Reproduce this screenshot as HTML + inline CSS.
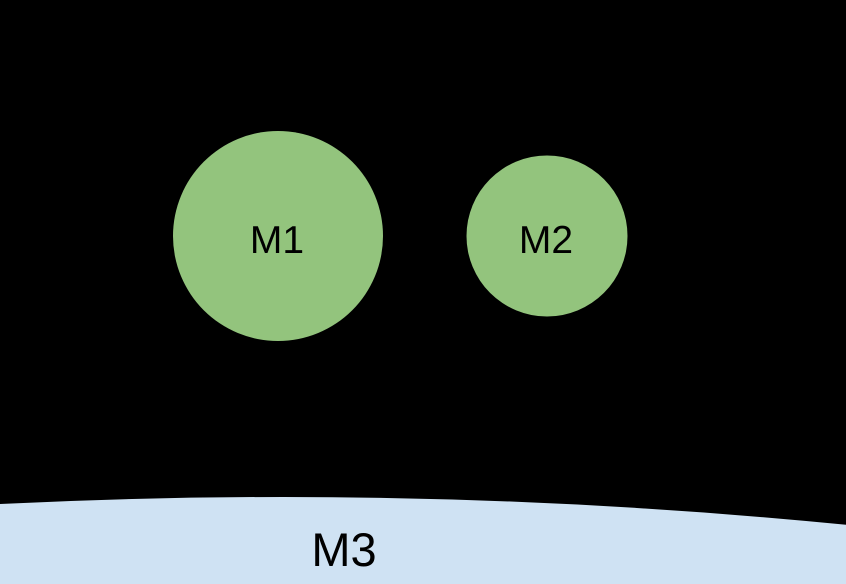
<!DOCTYPE html>
<html><head><meta charset="utf-8"><style>
html,body{margin:0;padding:0;background:#000;width:846px;height:584px;overflow:hidden;}
svg{display:block;}
text{font-family:"Liberation Sans",Arial,sans-serif;fill:#000;}
</style></head><body>
<svg width="846" height="584" viewBox="0 0 846 584" xmlns="http://www.w3.org/2000/svg">
<rect width="846" height="584" fill="#000"/>
<circle cx="278" cy="236" r="105" fill="#93c47d"/>
<circle cx="547" cy="236" r="80.5" fill="#93c47d"/>
<path d="M0,504 A5720 5720 0 0 1 846,524.8 L846,584 L0,584 Z" fill="#cfe2f3"/>
<text x="277" y="253" font-size="39" text-anchor="middle">M1</text>
<text x="546" y="253" font-size="39" text-anchor="middle">M2</text>
<text x="344" y="566" font-size="47" text-anchor="middle">M3</text>
</svg>
</body></html>
